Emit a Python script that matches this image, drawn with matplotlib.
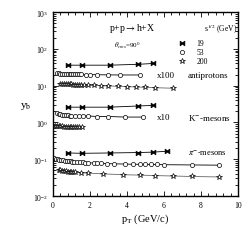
import matplotlib
matplotlib.use("Agg")
import matplotlib.pyplot as plt
import numpy as np

plt.rcParams['font.family'] = ['Liberation Serif', 'DejaVu Serif']
plt.rcParams['mathtext.fontset'] = 'stix'

# antiprotons (x100)
pbar19_x = [0.81, 1.57, 3.08, 4.6, 5.4]
pbar19_y = [36, 36, 36, 38, 40]
pbar53_x = [0.2, 0.3, 0.4, 0.5, 0.6, 0.7, 0.8, 0.9, 1.0, 1.1, 1.2, 1.3, 1.4, 1.5,
            1.8, 2.0, 2.4, 3.0, 3.6, 4.7]
pbar53_y = [21.7, 21.5, 21.3, 21.2, 21.0, 20.9, 20.8, 20.7, 20.6, 20.5, 20.4, 20.3,
            20.2, 20.1, 20.0, 19.9, 19.8, 19.6, 19.5, 19.5]
pbar200_x = [0.4, 0.5, 0.6, 0.7, 0.8, 0.9, 1.0, 1.1, 1.2, 1.3, 1.4, 1.5, 1.7, 1.9,
             2.2, 2.6, 3.0, 3.5, 4.0, 4.5, 5.0, 5.5, 6.5]
pbar200_y = [11.2, 11.1, 11.0, 11.0, 10.9, 10.8, 10.8, 10.7, 10.6, 10.6, 10.5, 10.4,
             10.3, 10.2, 10.1, 10.0, 9.8, 9.6, 9.4, 9.2, 9.0, 8.8, 8.5]

# K- mesons (x10)
km19_x = [0.81, 1.57, 3.08, 4.6, 5.4]
km19_y = [2.6, 2.6, 2.6, 2.8, 2.9]
km53_x = [0.2, 0.3, 0.4, 0.5, 0.6, 0.7, 0.8, 0.9, 1.0, 1.2, 1.4, 1.6, 1.9, 2.4,
          3.0, 3.9, 4.85]
km53_y = [1.8, 1.7, 1.65, 1.6, 1.6, 1.55, 1.55, 1.5, 1.5, 1.5, 1.5, 1.5, 1.5, 1.45,
          1.45, 1.4, 1.4]
km200_x = [0.1, 0.2, 0.3, 0.4, 0.5, 0.6, 0.7, 0.8, 0.9, 1.0, 1.1, 1.2, 1.3, 1.4, 1.57]
km200_y = [0.80, 0.79, 0.79, 0.78, 0.78, 0.77, 0.77, 0.76, 0.76, 0.76, 0.75, 0.75,
           0.75, 0.74, 0.74]

# pi- mesons
pi19_x = [0.81, 1.57, 3.08, 4.6, 5.4, 6.16]
pi19_y = [0.148, 0.145, 0.148, 0.152, 0.156, 0.165]
pi53_x = [0.05, 0.15, 0.25, 0.35, 0.45, 0.55, 0.65, 0.75, 0.85, 0.95, 1.05, 1.15,
          1.3, 1.45, 1.6, 1.75, 1.9, 2.2, 2.4, 2.6, 2.9, 3.3, 3.9, 4.3, 4.7, 5.0,
          5.3, 5.6, 6.0, 7.5, 9.0]
pi53_y = [0.108, 0.104, 0.101, 0.098, 0.096, 0.094, 0.092, 0.090, 0.088, 0.087,
          0.086, 0.085, 0.084, 0.083, 0.082, 0.081, 0.080, 0.079, 0.078, 0.077,
          0.076, 0.075, 0.074, 0.073, 0.073, 0.072, 0.072, 0.072, 0.071, 0.070, 0.069]
pi200_x = [0.3, 0.4, 0.5, 0.6, 0.7, 0.8, 0.9, 1.0, 1.1, 1.2, 1.5, 1.9, 2.7, 3.8,
           4.7, 5.5, 6.5, 7.5, 9.0]
pi200_y = [0.051, 0.050, 0.049, 0.048, 0.047, 0.046, 0.046, 0.045, 0.045, 0.044,
           0.043, 0.042, 0.040, 0.038, 0.037, 0.036, 0.035, 0.034, 0.033]

energies = ['19', '53', '200']

bowtie = [(-1, -1), (-1, 1), (0, 0.35), (1, 1), (1, -1), (0, -0.35), (-1, -1)]


def draw(ax, x, y, kind, line=True):
    ls = '-' if line else 'none'
    if kind == '19':
        ax.plot(x, y, ls, color='black', lw=0.6, marker=bowtie, ms=3.5,
                mfc='black', mec='black', mew=0.4)
    elif kind == '53':
        ax.plot(x, y, ls, color='black', lw=0.6, marker='o', ms=3,
                mfc='white', mec='black', mew=0.5)
    else:
        ax.plot(x, y, ls, color='0.4', lw=0.6, marker='*', ms=4,
                mfc='white', mec='black', mew=0.5)


fig = plt.figure(figsize=(2.51, 2.51), dpi=100)
ax = fig.add_axes([0.211, 0.215, 0.737, 0.733])

for x, y, k in [(pbar19_x, pbar19_y, '19'), (pbar53_x, pbar53_y, '53'), (pbar200_x, pbar200_y, '200'),
                (km19_x, km19_y, '19'), (km53_x, km53_y, '53'), (km200_x, km200_y, '200'),
                (pi19_x, pi19_y, '19'), (pi53_x, pi53_y, '53'), (pi200_x, pi200_y, '200')]:
    draw(ax, x, y, k)

ax.set_yscale('log')
ax.set_xlim(0, 10)
ax.set_ylim(1e-2, 1e3)
ax.set_xticks([0, 2, 4, 6, 8, 10])
ax.xaxis.set_minor_locator(matplotlib.ticker.MultipleLocator(0.4))
ax.tick_params(which='both', direction='in', top=True, right=True, labelsize=5.5,
               width=0.6)
ax.tick_params(which='major', length=3.5)
ax.tick_params(which='minor', length=2)
for s in ax.spines.values():
    s.set_linewidth(1.0)

ax.set_xlabel(r'p$_\mathrm{T}$ (GeV/c)', fontsize=7.5, labelpad=2)
ax.set_ylabel(r'y$_\mathrm{b}$', fontsize=8, rotation=0)
ax.yaxis.set_label_coords(-0.15, 0.46)

ax.text(4.3, 370, r'p+p$\rightarrow$h+X', fontsize=7, ha='center', va='center')
ax.text(4.0, 126, r'$\theta_{cms}$=90$^0$', fontsize=5, ha='center', va='center')
ax.text(9.95, 350, r's$^{1/2}$ (GeV)', fontsize=5.5, ha='right', va='center')

leg_y = [145, 82, 47]
for ly, k in zip(leg_y, energies):
    draw(ax, [7.0], [ly], k, line=False)
    ax.text(7.75, ly, k, fontsize=5.5, ha='left', va='center')

ax.text(5.6, 19.5, 'x100', fontsize=6.5, ha='left', va='center')
ax.text(7.3, 19.5, 'antiprotons', fontsize=6.5, ha='left', va='center')
ax.text(5.6, 1.45, 'x10', fontsize=6.5, ha='left', va='center')
ax.text(7.3, 1.45, r'K$^{-}$-mesons', fontsize=6.5, ha='left', va='center')
ax.text(7.3, 0.155, r'$\pi^{-}$-mesons', fontsize=6, ha='left', va='center')

fig.savefig('out.png', dpi=100)
